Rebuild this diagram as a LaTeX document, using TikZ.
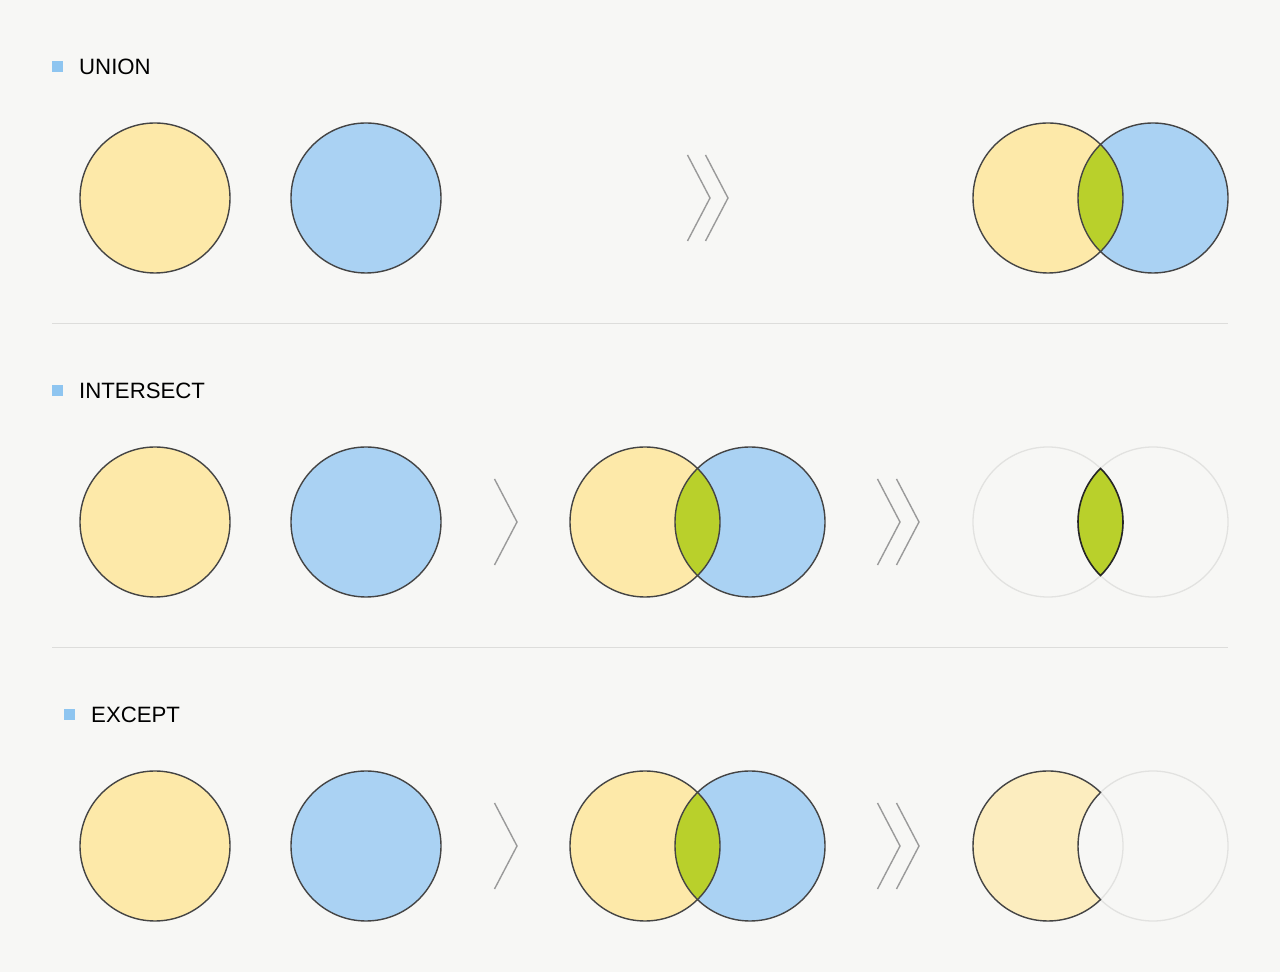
\documentclass[tikz,border=0pt]{standalone}
\usepackage{fontspec}
\setmainfont{Liberation Sans}
\definecolor{bg}{HTML}{F7F7F5}
\definecolor{yel}{HTML}{FDE9A9}
\definecolor{yelpale}{HTML}{FCEDBF}
\definecolor{blu}{HTML}{AAD2F3}
\definecolor{grn}{HTML}{B9D02B}
\definecolor{edge}{HTML}{444444}
\definecolor{faint}{HTML}{E2E2E0}
\definecolor{chev}{HTML}{9A9A9A}
\definecolor{sq}{HTML}{8EC5F0}
\definecolor{sep}{HTML}{DDDDDB}
\tikzset{
  setline/.style={draw=edge,line width=1.4pt},
  faintline/.style={draw=faint,line width=1.3pt},
  lensline/.style={draw=black!85,line width=1.6pt},
  chevline/.style={draw=chev,line width=1.4pt},
  seprule/.style={draw=sep,line width=1pt},
  marker/.style={fill=sq,minimum size=11pt,inner sep=0pt,outer sep=0pt},
  heading/.style={font=\fontsize{22.2}{24}\selectfont,text=black,inner sep=0pt,anchor=base west}
}
\def\R{75}
\def\ang{45.57}
\newcommand{\chevron}[2]{% apex x, center y
  \draw[chevline] (#1-22.5,#2+43) -- (#1,#2) -- (#1-22.5,#2-43);}
\newcommand{\lenspath}[2]{% left center x, y ; right center = +105
  (#1+52.5,#2+53.56) arc[start angle=134.43,end angle=225.57,radius=\R]
  arc[start angle=-\ang,end angle=\ang,radius=\R] -- cycle}
\newcommand{\pairfull}[2]{%
  \fill[yel] (#1,#2) circle (\R);
  \fill[blu] (#1+105,#2) circle (\R);
  \fill[grn] \lenspath{#1}{#2};
  \draw[setline] (#1,#2) circle (\R);
  \draw[setline] (#1+105,#2) circle (\R);}
\begin{document}
\begin{tikzpicture}[x=1pt,y=1pt]
\fill[bg] (0,0) rectangle (1280,972);
\useasboundingbox (0,0) rectangle (1280,972);
% headings
\node[marker] (m1) at (57.5,905.5) {};
\node[heading] (h1) at (79,897) {UNION};
\node[marker] (m2) at (57.5,581.5) {};
\node[heading] (h2) at (79,573) {INTERSECT};
\node[marker] (m3) at (69.5,257.5) {};
\node[heading] (h3) at (91,249) {EXCEPT};
% separators
\draw[seprule] (52,648) -- (1228,648);
\draw[seprule] (52,324) -- (1228,324);
% inputs
\foreach \yy in {774,450,126}{
  \draw[setline,fill=yel] (155,\yy) circle (\R);
  \draw[setline,fill=blu] (366,\yy) circle (\R);
}
% chevrons
\chevron{710}{774}\chevron{728}{774}
\chevron{517}{450}
\chevron{900}{450}\chevron{919}{450}
\chevron{517}{126}
\chevron{900}{126}\chevron{919}{126}
% union result
\pairfull{1048}{774}
% intersect middle + result
\pairfull{645}{450}
\draw[faintline] (1048,450) circle (\R);
\draw[faintline] (1153,450) circle (\R);
\fill[grn] \lenspath{1048}{450};
\draw[lensline] \lenspath{1048}{450};
% except middle + result
\pairfull{645}{126}
\draw[faintline] (1153,126) circle (\R);
\draw[faintline] (1048,126) circle (\R);
\draw[setline,fill=yelpale] (1100.5,179.56) arc[start angle=\ang,end angle=360-\ang,radius=\R]
  arc[start angle=225.57,end angle=134.43,radius=\R] -- cycle;
\end{tikzpicture}
\end{document}
